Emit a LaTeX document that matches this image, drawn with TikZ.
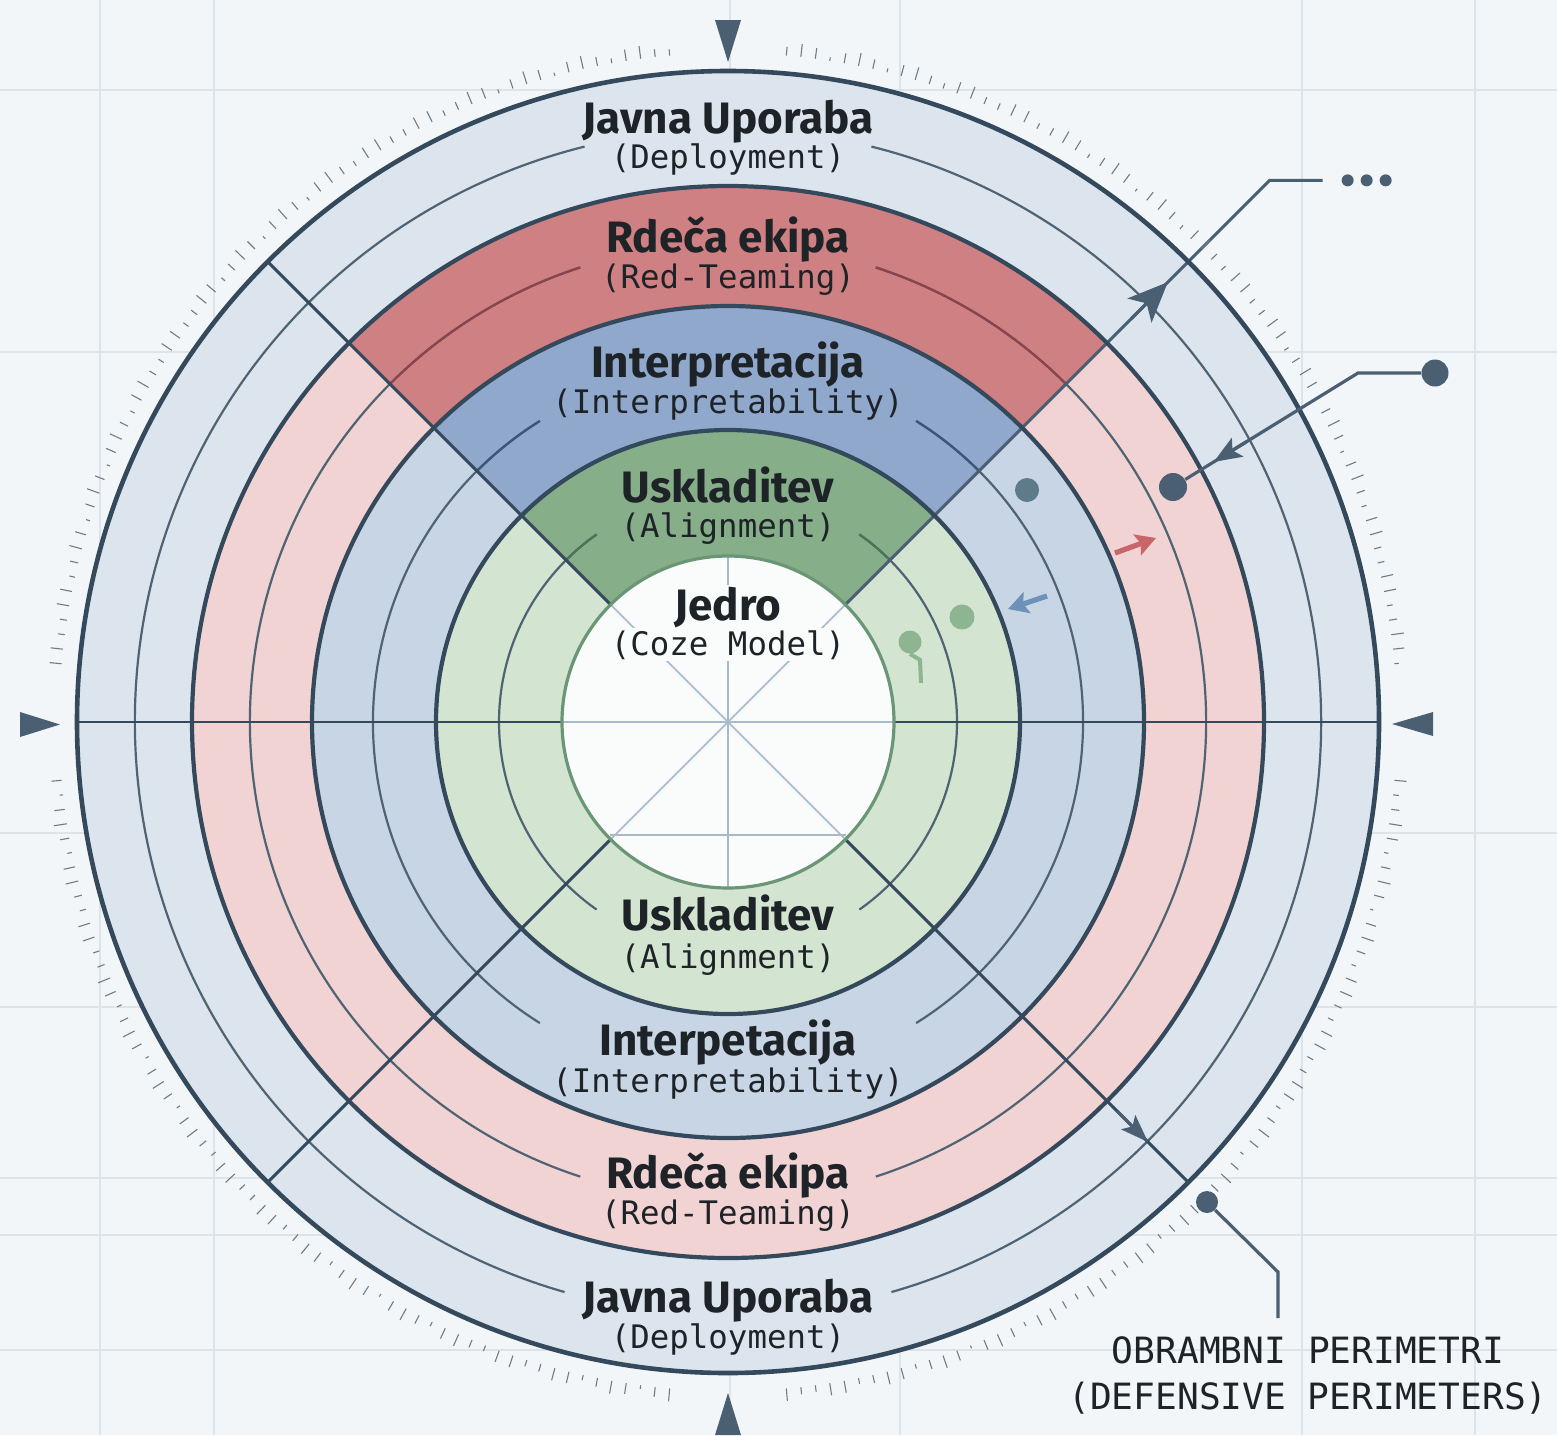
\documentclass[tikz,border=0pt]{standalone}
\usepackage{fontspec}
\setmainfont{Fira Sans}
\setmonofont{DejaVu Sans Mono}
\usetikzlibrary{arrows.meta,calc}
\definecolor{bgc}{HTML}{F2F6F8}
\definecolor{gridc}{HTML}{DCE4EA}
\definecolor{outerc}{HTML}{DCE5EE}
\definecolor{redl}{HTML}{F1D3D3}
\definecolor{redd}{HTML}{CF8083}
\definecolor{bluel}{HTML}{C8D5E5}
\definecolor{blued}{HTML}{8FA8CC}
\definecolor{greenl}{HTML}{D3E5D1}
\definecolor{greend}{HTML}{86AF89}
\definecolor{corec}{HTML}{FAFCFC}
\definecolor{inkc}{HTML}{34495C}
\definecolor{thinc}{HTML}{4F6373}
\definecolor{corel}{HTML}{A7BACA}
\definecolor{coreb}{HTML}{6A9676}
\definecolor{txtc}{HTML}{1E2328}
\definecolor{annc}{HTML}{4A5F72}
\definecolor{tickc}{HTML}{6F7C88}
\definecolor{redthin}{HTML}{8E434A}
\definecolor{bluethin}{HTML}{3D5577}
\definecolor{greenthin}{HTML}{4A7655}
\definecolor{redarr}{HTML}{C86669}
\definecolor{bluearr}{HTML}{6E91B8}
\definecolor{greendot}{HTML}{8DB592}
\definecolor{bluedot}{HTML}{5E7B8C}
\begin{document}
\begin{tikzpicture}[x=0.5pt,y=-0.5pt,
  thickring/.style={draw=inkc,line width=2.1pt},
  thinring/.style={draw=thinc,line width=1.1pt},
  diagline/.style={draw=inkc,line width=1.5pt},
  coreline/.style={draw=corel,line width=0.8pt},
  gridline/.style={draw=gridc,line width=1pt},
  ttl/.style={font=\fontsize{22}{26}\selectfont\bfseries,text=txtc,anchor=base,inner sep=1pt},
  sub/.style={font=\fontsize{16.2}{19}\selectfont\ttfamily,text=txtc,anchor=base,inner sep=1pt},
  ann/.style={draw=annc,line width=1.6pt},
  tickmark/.style={draw=tickc,line width=0.55pt},
  marker/.style={fill=annc},
  dotnode/.style={circle,fill=annc,inner sep=0pt,draw=none},
]
\useasboundingbox (0,0) rectangle (1557,1435);
\fill[bgc] (0,0) rectangle (1557,1435);
% grid
\foreach \gx in {100,214,730,900,1302,1475} \draw[gridline] (\gx,0) -- (\gx,1435);
\foreach \gy in {90,352,833,1007,1178,1235,1350} \draw[gridline] (0,\gy) -- (1557,\gy);

\begin{scope}[shift={(728,722)},yscale=-1]
  \coordinate (O) at (0,0);
  % fills
  \fill[outerc] (O) circle[radius=651];
  \fill[redl] (O) circle[radius=536];
  \fill[redd] (O) -- (45:536) arc[start angle=45,end angle=135,radius=536] -- cycle;
  \fill[bluel] (O) circle[radius=416];
  \fill[blued] (O) -- (45:416) arc[start angle=45,end angle=135,radius=416] -- cycle;
  \fill[greenl] (O) circle[radius=292];
  \fill[greend] (O) -- (45:292) arc[start angle=45,end angle=135,radius=292] -- cycle;
  \fill[corec] (O) circle[radius=166];
  % thin rings with gaps for the labels
  \draw[thinring] (104:593) arc[start angle=104,end angle=254,radius=593];
  \draw[thinring] (286:593) arc[start angle=286,end angle=436,radius=593];
  \draw[thinring] (108:478) arc[start angle=108,end angle=252,radius=478];
  \draw[thinring] (288:478) arc[start angle=288,end angle=432,radius=478];
  \draw[thinring] (122:355) arc[start angle=122,end angle=238,radius=355];
  \draw[thinring] (302:355) arc[start angle=302,end angle=418,radius=355];
  \draw[thinring] (125:229) arc[start angle=125,end angle=235,radius=229];
  \draw[thinring] (305:229) arc[start angle=305,end angle=415,radius=229];
  \draw[thinring,draw=redthin] (108:478) arc[start angle=108,end angle=135,radius=478];
  \draw[thinring,draw=redthin] (45:478) arc[start angle=45,end angle=72,radius=478];
  \draw[thinring,draw=bluethin] (122:355) arc[start angle=122,end angle=135,radius=355];
  \draw[thinring,draw=bluethin] (45:355) arc[start angle=45,end angle=58,radius=355];
  \draw[thinring,draw=greenthin] (125:229) arc[start angle=125,end angle=135,radius=229];
  \draw[thinring,draw=greenthin] (45:229) arc[start angle=45,end angle=55,radius=229];
  % core light lines
  \draw[coreline] (-166,0) -- (166,0);
  \draw[coreline] (0,166) -- (0,-166);
  \draw[coreline] (45:166) -- (225:166);
  \draw[coreline] (135:166) -- (315:166);
  \draw[coreline] (-118,-113) -- (118,-113);
  % horizontal axis in rings
  \draw[inkc,line width=1.1pt] (-651,0) -- (-166,0);
  \draw[inkc,line width=1.1pt] (166,0) -- (651,0);
  % diagonals
  \foreach \a in {135,225,315} \draw[diagline] (\a:166) -- (\a:651);
  \coordinate (b1) at (45:766);
  \draw[diagline,draw=annc] (45:166) -- (b1) -- ++(53,0) coordinate (e1);
  % ring borders
  \draw[thickring] (O) circle[radius=292];
  \draw[thickring] (O) circle[radius=416];
  \draw[thickring] (O) circle[radius=536];
  \draw[thickring,line width=2.3pt] (O) circle[radius=651];
  \draw[draw=coreb,line width=1.6pt] (O) circle[radius=166];
  % arrows on diagonals
  \draw[annc,line width=1.5pt,-{Stealth[length=20pt,width=17pt,inset=5pt]}] (45:570) -- (45:622);
  \draw[annc,line width=1.5pt,-{Stealth[length=14pt,width=10pt,inset=3pt]}] (315:550) -- (315:594);
  % ticks
  \foreach \a in {0,1.25,...,358.75}{
    \pgfmathtruncatemacro\tskp{(abs(mod(\a+45,90)-45)<4)?1:0}
    \pgfmathsetmacro\tl{3+10*abs(sin(\a*37.7))}
    \ifnum\tskp=0 \draw[tickmark] (\a:669) -- (\a:669+\tl); \fi
  }
\end{scope}

% dots after e1
\foreach \dx in {25,44,63} \fill[annc] ($(e1)+(\dx,0)$) circle[radius=6];

% cardinal markers
\fill[marker] (715,20) -- (741,20) -- (728,62) -- cycle;
\fill[marker] (715,1435) -- (741,1435) -- (728,1393) -- cycle;
\fill[marker] (20,712) -- (20,737) -- (60,724.5) -- cycle;
\fill[marker] (1433,712) -- (1433,736) -- (1392,724) -- cycle;

% labels top
\node[ttl] (t1) at (728,133) {Javna Uporaba};
\node[sub] (s1) at (728,168) {(Deployment)};
\node[ttl] (t2) at (728,252) {Rdeča ekipa};
\node[sub] (s2) at (728,288) {(Red-Teaming)};
\node[ttl] (t3) at (728,377) {Interpretacija};
\node[sub] (s3) at (728,413) {(Interpretability)};
\node[ttl] (t4) at (728,502) {Uskladitev};
\node[sub] (s4) at (728,537) {(Alignment)};
\node[ttl,fill=corec] (t5) at (728,620) {Jedro};
\node[sub,fill=corec] (s5) at (728,655) {(Coze Model)};
% labels bottom
\node[ttl] (t6) at (728,930) {Uskladitev};
\node[sub] (s6) at (728,968) {(Alignment)};
\node[ttl] (t7) at (728,1055) {Interpetacija};
\node[sub] (s7) at (728,1092) {(Interpretability)};
\node[ttl] (t8) at (728,1188) {Rdeča ekipa};
\node[sub] (s8) at (728,1224) {(Red-Teaming)};
\node[ttl] (t9) at (728,1312) {Javna Uporaba};
\node[sub] (s9) at (728,1348) {(Deployment)};

% annotation 2
\node[dotnode,minimum size=13.5pt] (dotA) at (1435,373) {};
\node[dotnode,minimum size=14pt] (dotB) at (1173,487) {};
\coordinate (b2) at (1358,373);
\draw[ann] (dotA) -- (b2) -- (dotB);
\draw[ann,-{Stealth[length=14pt,width=11pt,inset=3pt]}] ($(b2)!0.6!(dotB)$) -- ($(b2)!0.78!(dotB)$);

% small markers in rings
\node[dotnode,fill=bluedot,minimum size=12pt] (bd) at (1027,490) {};
\node[dotnode,fill=greendot,minimum size=12.5pt] (g1) at (962,617) {};
\node[dotnode,fill=greendot,minimum size=11.5pt] (g2) at (910,642) {};
\draw[greendot,line width=2pt] (g2.south) -- ++(10,6) -- ++(1,23);
\coordinate (ra1) at (1115,553);
\coordinate (ra2) at (1156,538);
\draw[redarr,line width=2.6pt,-{Stealth[length=10pt,width=11pt,inset=2pt]}] (ra1) -- (ra2);
\coordinate (ba1) at (1047,596);
\coordinate (ba2) at (1008,609);
\draw[bluearr,line width=2.6pt,-{Stealth[length=10pt,width=11pt,inset=2pt]}] (ba1) -- (ba2);

% annotation 3
\node[dotnode,minimum size=11pt] (dotC) at (1207,1202) {};
\coordinate (b3) at (1278,1272);
\coordinate (e3) at (1278,1318);
\draw[ann] (dotC) -- (b3) -- (e3);
\node[font=\fontsize{18.1}{22}\selectfont\ttfamily,text=txtc,anchor=base,inner sep=0pt] (p1) at (1308,1363) {OBRAMBNI PERIMETRI};
\node[font=\fontsize{18.1}{22}\selectfont\ttfamily,text=txtc,anchor=base,inner sep=0pt] (p2) at (1308,1409) {(DEFENSIVE PERIMETERS)};
\end{tikzpicture}
\end{document}
